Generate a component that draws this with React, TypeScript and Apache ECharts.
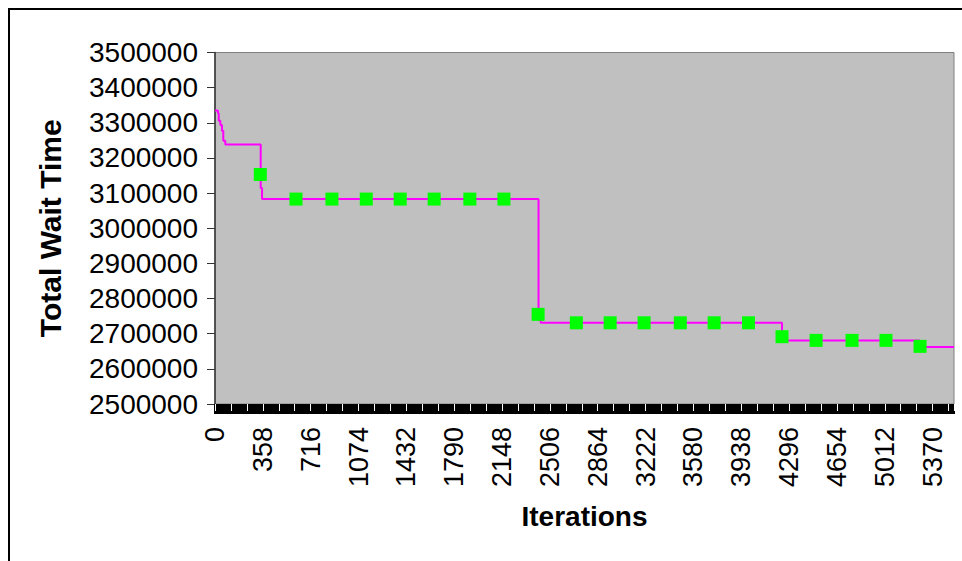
import React, { useEffect, useRef } from "react";
import * as echarts from "echarts";

// Step line: iteration where the value changes, and the new value
const stepIterations = [0, 22, 28, 40, 52, 62, 77, 342, 352, 2421, 2438, 4243, 5273, 5530];
const stepWaitTimes = [3335000, 3327000, 3306000, 3294000, 3277500, 3249000, 3238000, 3114500, 3083000, 2739000, 2731000, 2681000, 2662000, 2662000];

// Sampled points drawn as green squares
const markerIterations = [339, 606, 875, 1132, 1386, 1640, 1907, 2162, 2418, 2704, 2957, 3211, 3482, 3735, 3992, 4243, 4498, 4767, 5021, 5276];
const markerWaitTimes = [3153000, 3083000, 3083000, 3083000, 3083000, 3083000, 3083000, 3083000, 2755000, 2731000, 2731000, 2731000, 2731000, 2731000, 2731000, 2691500, 2681000, 2681000, 2681000, 2664000];

const xMin = 0;
const xMax = 5530;
const xInterval = 358;
const yMin = 2500000;
const yMax = 3500000;
const yInterval = 100000;

const FONT = "'Liberation Sans', Arial, sans-serif";

export default function App() {
  const ref = useRef<HTMLDivElement>(null);
  useEffect(() => {
    if (!ref.current) return;
    const chart = echarts.init(ref.current, undefined, { renderer: "svg" });
    const lineData = stepIterations.map((x, i) => [x, stepWaitTimes[i]]);
    const markerData = markerIterations.map((x, i) => [x, markerWaitTimes[i]]);
    chart.setOption({
      animation: false,
      backgroundColor: "#ffffff",
      graphic: [
        {
          type: "rect",
          silent: true,
          shape: { x: 9, y: 9, width: 1000, height: 600 },
          style: { fill: "none", stroke: "#000000", lineWidth: 2 },
        },
      ],
      grid: {
        left: 215,
        top: 52.5,
        right: 8,
        bottom: 157,
        show: true,
        backgroundColor: "#C0C0C0",
        borderColor: "#808080",
        borderWidth: 1,
      },
      xAxis: [
        {
          type: "value",
          min: xMin,
          max: xMax,
          interval: xInterval,
          position: "bottom",
          name: "Iterations",
          nameLocation: "middle",
          nameGap: 98,
          nameTextStyle: { fontFamily: FONT, fontSize: 28, fontWeight: "bold", color: "#000" },
          axisLine: { show: true, lineStyle: { color: "#000", width: 1 } },
          axisTick: { show: true, length: 10, lineStyle: { color: "#000", width: 2 } },
          minorTick: { show: true, splitNumber: 40, length: 10, lineStyle: { color: "#000", width: 2 } },
          splitLine: { show: false },
          minorSplitLine: { show: false },
          axisLabel: {
            rotate: 90,
            margin: 23,
            fontFamily: FONT,
            fontSize: 27,
            color: "#000",
            showMaxLabel: false,
            formatter: (v: number) => (v % xInterval === 0 ? String(v) : ""),
          },
        },
        {
          type: "value",
          min: xMin,
          max: xMax,
          interval: xInterval,
          position: "bottom",
          axisLine: { show: false },
          axisLabel: { show: false },
          splitLine: { show: false },
          axisTick: { show: true, length: 7, lineStyle: { color: "#fff", width: 1 } },
          minorTick: { show: true, splitNumber: 3, length: 7, lineStyle: { color: "#fff", width: 1 } },
        },
      ],
      yAxis: {
        type: "value",
        min: yMin,
        max: yMax,
        interval: yInterval,
        name: "Total Wait Time",
        nameLocation: "middle",
        nameGap: 150,
        nameTextStyle: { fontFamily: FONT, fontSize: 30, fontWeight: "bold", color: "#000" },
        axisLine: { show: true, lineStyle: { color: "#333", width: 1.5 } },
        axisTick: { show: true, length: 8, lineStyle: { color: "#333", width: 1 } },
        splitLine: { show: false },
        axisLabel: {
          fontFamily: FONT,
          fontSize: 28,
          color: "#000",
          margin: 17,
          formatter: (v: number) => String(v),
        },
      },
      series: [
        {
          type: "line",
          xAxisIndex: 0,
          data: lineData,
          step: "end",
          symbol: "none",
          lineStyle: { color: "#FF00FF", width: 2 },
          z: 2,
        },
        {
          type: "scatter",
          xAxisIndex: 0,
          data: markerData,
          symbol: "rect",
          symbolSize: 13,
          itemStyle: { color: "#00FF00", opacity: 1 },
          z: 3,
        },
      ],
    });
    return () => chart.dispose();
  }, []);
  return (
    <div
      ref={ref}
      style={{ position: "fixed", left: 0, top: 0, width: 962, height: 561, background: "#fff" }}
    />
  );
}
